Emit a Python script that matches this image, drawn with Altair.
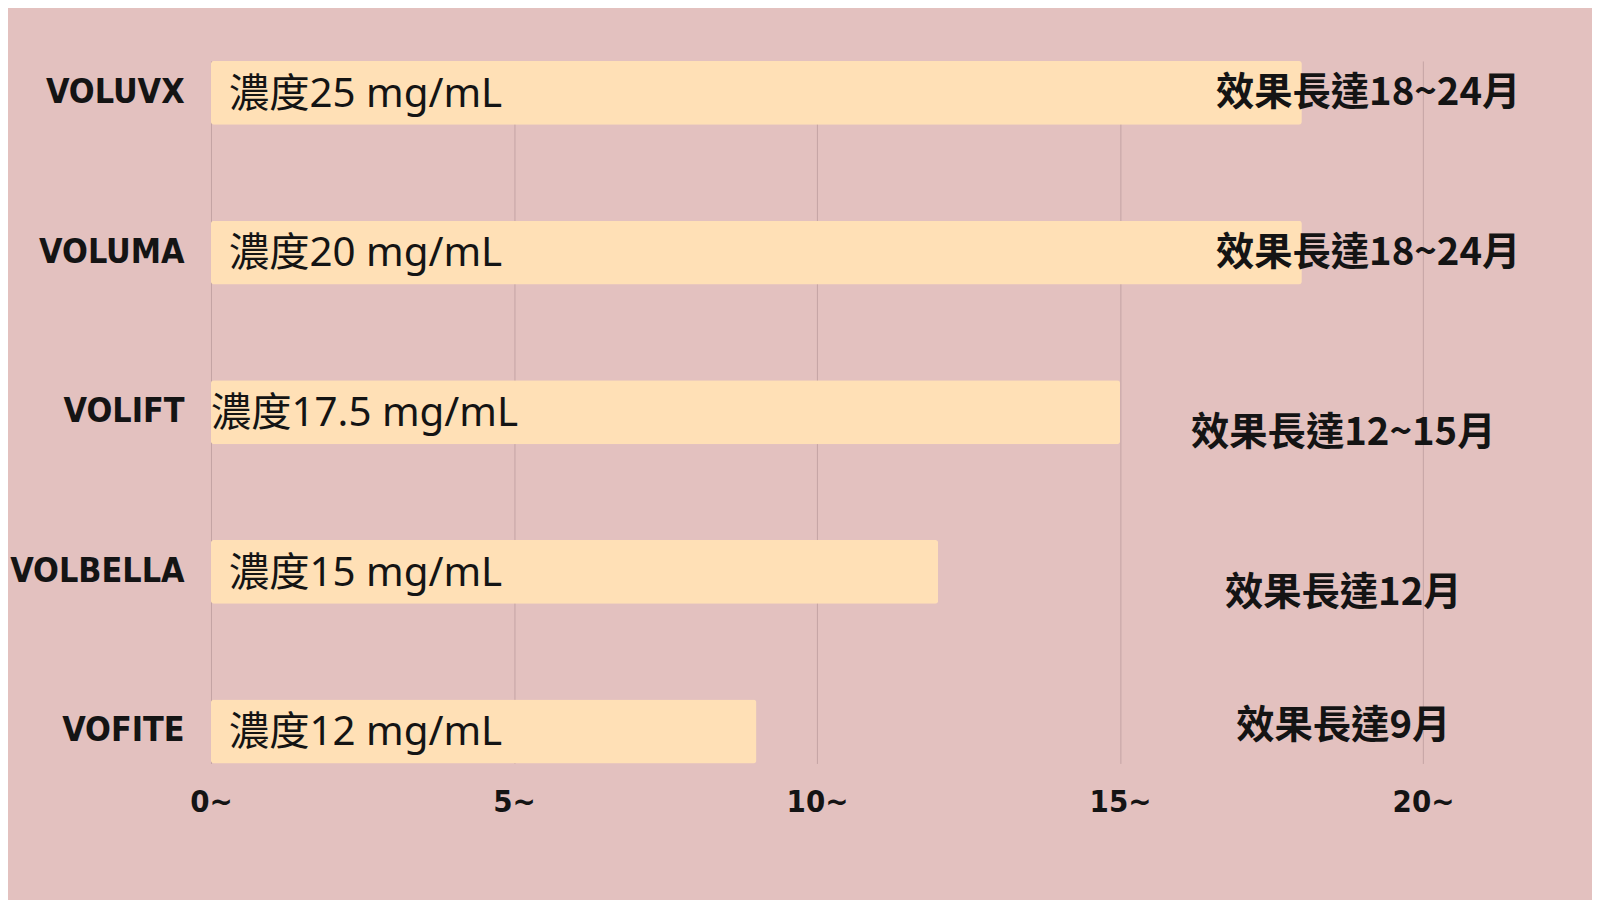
import altair as alt
import pandas as pd

products = ["VOLUVX", "VOLUMA", "VOLIFT", "VOLBELLA", "VOFITE"]
concentration = ["濃度25 mg/mL", "濃度20 mg/mL", "濃度17.5 mg/mL", "濃度15 mg/mL", "濃度12 mg/mL"]
months = [18, 18, 15, 12, 9]
duration = ["效果長達18~24月", "效果長達18~24月", "效果長達12~15月", "效果長達12月", "效果長達9月"]
group = ["a", "a", "b", "b", "c"]
tick_values = [0, 5, 10, 15, 20]

df = pd.DataFrame({
    "product": products,
    "conc": concentration,
    "months": months,
    "duration": duration,
    "group": group,
})

BG = "#E3C1BF"
BAR = "#FFE0B6"
INK = "#141414"
LABEL_FONT = "'DejaVu Sans Condensed', 'DejaVu Sans'"

y_enc = alt.Y(
    "product:N",
    sort=products,
    scale=alt.Scale(paddingInner=0.6, paddingOuter=0),
    axis=alt.Axis(
        title=None, domain=False, ticks=False, grid=False,
        labelFont=LABEL_FONT, labelFontWeight="bold",
        labelFontSize=34, labelColor=INK, labelPadding=27,
    ),
)
x_enc = alt.X(
    "months:Q",
    scale=alt.Scale(domain=[0, 22], nice=False),
    axis=alt.Axis(
        title=None, domain=False, ticks=False, grid=True,
        gridColor="#C4A3A3", gridWidth=1, gridOpacity=1,
        values=tick_values, labelExpr="datum.label + '~'",
        labelFlush=False, labelAlign="center",
        labelFont=LABEL_FONT, labelFontWeight="bold",
        labelFontSize=31, labelColor=INK, labelPadding=24,
    ),
)

base = alt.Chart(df)

bars = base.mark_bar(color=BAR, cornerRadius=3).encode(x=x_enc, y=y_enc)

conc_text = dict(align="left", baseline="middle", font="'Noto Sans', 'Noto Sans CJK TC'",
                 fontSize=40.5, color=INK, dy=2)
conc_a = base.transform_filter("datum.product != 'VOLIFT'").mark_text(dx=18, **conc_text).encode(
    x=alt.value(0), y=alt.Y("product:N", sort=products), text="conc:N")
conc_b = base.transform_filter("datum.product == 'VOLIFT'").mark_text(dx=0, **conc_text).encode(
    x=alt.value(0), y=alt.Y("product:N", sort=products), text="conc:N")

dur_text = dict(align="center", baseline="middle", font="Noto Sans CJK TC",
                fontWeight="bold", fontSize=38.5, color=INK)
dur_a = base.transform_filter("datum.group == 'a'").mark_text(dy=0, **dur_text).encode(
    x=alt.value(1163), y=alt.Y("product:N", sort=products), text="duration:N")
dur_b = base.transform_filter("datum.group == 'b'").mark_text(dy=21, **dur_text).encode(
    x=alt.value(1138), y=alt.Y("product:N", sort=products), text="duration:N")
dur_c = base.transform_filter("datum.group == 'c'").mark_text(dy=-5, **dur_text).encode(
    x=alt.value(1138), y=alt.Y("product:N", sort=products), text="duration:N")

chart = alt.layer(bars, conc_a, conc_b, dur_a, dur_b, dur_c).properties(
    width=1340, height=706,
    background=BG,
    padding={"left": 204, "top": 51, "right": 48, "bottom": 135},
    autosize=alt.AutoSizeParams(type="none"),
).configure_view(stroke=None)

chart.save("out.html", embed_options={"renderer": "svg", "actions": False})
